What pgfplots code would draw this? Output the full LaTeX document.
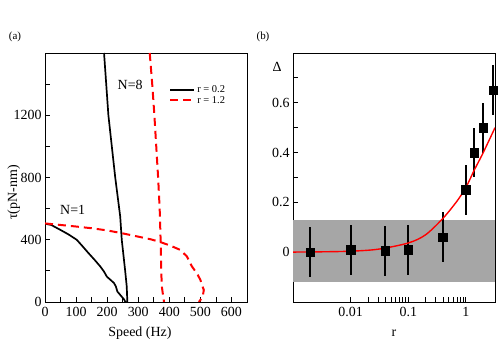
\documentclass[border=0pt]{standalone}
\usepackage{fontspec}
\setmainfont{Liberation Serif}
\usepackage{pgfplots}
\pgfplotsset{compat=1.18}

\pgfplotsset{
  panel/.style={
    scale only axis, width=202bp, height=249bp,
    axis line style={line width=0.9pt},
    tick align=inside, xtick pos=bottom, ytick pos=left,
    major tick length=5bp, minor tick length=5bp,
    every tick/.style={line width=0.8pt, black},
    tick label style={font=\fontsize{14}{16}\selectfont},
    xticklabel style={yshift=-2bp},
    label style={font=\fontsize{14}{16}\selectfont},
    /pgf/number format/assume math mode=true,
    /pgf/number format/1000 sep={},
    clip=true,
  },
}

\begin{document}
\begin{tikzpicture}
\path[use as bounding box] (0,0) rectangle (498bp,345bp);

% (a) torque-speed curves
\begin{axis}[panel, at={(45bp,43bp)}, anchor=south west,
  xmin=0, xmax=650, ymin=0, ymax=1600,
  xtick={0,100,...,600}, minor xtick={50,150,...,650},
  ytick={0,400,800,1200}, minor ytick={200,600,1000,1400},
  scaled ticks=false,
  xlabel={Speed (Hz)}, xlabel style={at={(axis description cs:0.47,-0.125)}, anchor=center},
  ylabel={τ(pN-nm)}, ylabel style={at={(axis description cs:-0.155,0.44)}, anchor=center},
  legend style={at={(0.6,0.885)}, anchor=north west, draw=none, fill=none,
    font=\fontsize{10.5}{11}\selectfont, row sep=-2bp},
  legend cell align=left,
  legend image code/.code={\draw[#1] (0bp,0bp) -- (24bp,0bp);},
]
\addplot[black, line width=1.7pt] coordinates {
  (190,1600) (204,1200) (226,800) (242,550) (247,400) (258,200) (263,100) (265,0)};
\addlegendentry{r = 0.2}
\addplot[red, line width=2pt, dash pattern=on 8bp off 5bp] coordinates {
  (337,1600) (345,1400) (352,1200) (358,1000) (364,800) (369,600) (372,400)
  (374,200) (376,100) (380,40) (383,0)};
\addlegendentry{r = 1.2}
\addplot[black, line width=1.7pt, forget plot] coordinates {
  (0,503) (20,495) (48,465) (75,435) (102,400) (120,360) (140,314) (160,270)
  (178,228) (190,195) (199,163) (212,140) (222,122) (228,100) (233,67)
  (247,34) (255,15) (258,3) (262,0)};
\addplot[red, line width=2pt, dash pattern=on 8bp off 5bp, forget plot] coordinates {
  (0,505) (50,495) (100,485) (150,474) (200,460) (245,443) (300,420) (340,403)
  (365,389) (400,365) (435,335) (457,292) (473,228) (490,180) (500,142)
  (511,77) (508,40) (500,13) (495,0)};
\node[font=\fontsize{14}{16}\selectfont] at (axis cs:274,1393) {N=8};
\node[font=\fontsize{14}{16}\selectfont] at (axis cs:89,593) {N=1};
\end{axis}

% (b) Delta versus r
\begin{axis}[panel, at={(293bp,43bp)}, anchor=south west,
  xmode=log, xmin=0.001, xmax=3.2, ymin=-0.2, ymax=0.8,
  xtick={0.01,0.1,1}, xticklabels={0.01,0.1,1},
  ytick={0,0.2,0.4,0.6}, yticklabels={0,0.2,0.4,0.6},
  minor ytick={-0.1,0.1,0.3,0.5,0.7},
  xlabel={r}, xlabel style={at={(axis description cs:0.5,-0.125)}, anchor=center},
]
\addplot[fill=black!35, draw=none] coordinates {
  (0.001,-0.12) (3.2,-0.12) (3.2,0.13) (0.001,0.13)} -- cycle;
\addplot[black, only marks, mark=square*, mark size=4.3bp,
  error bars/.cd, y dir=both, y explicit, error mark=none,
  error bar style={line width=1.8pt, black}] coordinates {
  (0.002,0) +- (0,0.1)
  (0.01,0.01) +- (0,0.1)
  (0.04,0.005) +- (0,0.1)
  (0.1,0.01) +- (0,0.1)
  (0.4,0.06) +- (0,0.1)
  (1,0.25) +- (0,0.1)
  (1.4,0.4) +- (0,0.1)
  (2,0.5) +- (0,0.1)
  (3,0.65) +- (0,0.1)};
\addplot[red, line width=1.4pt, smooth] coordinates {
  (0.001,0.0005) (0.003,0.0015) (0.01,0.004) (0.03,0.012) (0.1,0.037)
  (0.2,0.07) (0.4,0.136) (0.7,0.205) (1,0.26) (1.4,0.33) (2,0.40) (3.2,0.5)};
\end{axis}

\node[font=\fontsize{11}{12}\selectfont] at (15bp,308bp) {(a)};
\node[font=\fontsize{11}{12}\selectfont] at (263bp,308bp) {(b)};
\node[font=\fontsize{14}{16}\selectfont] at (277bp,278bp) {Δ};
\end{tikzpicture}
\end{document}
